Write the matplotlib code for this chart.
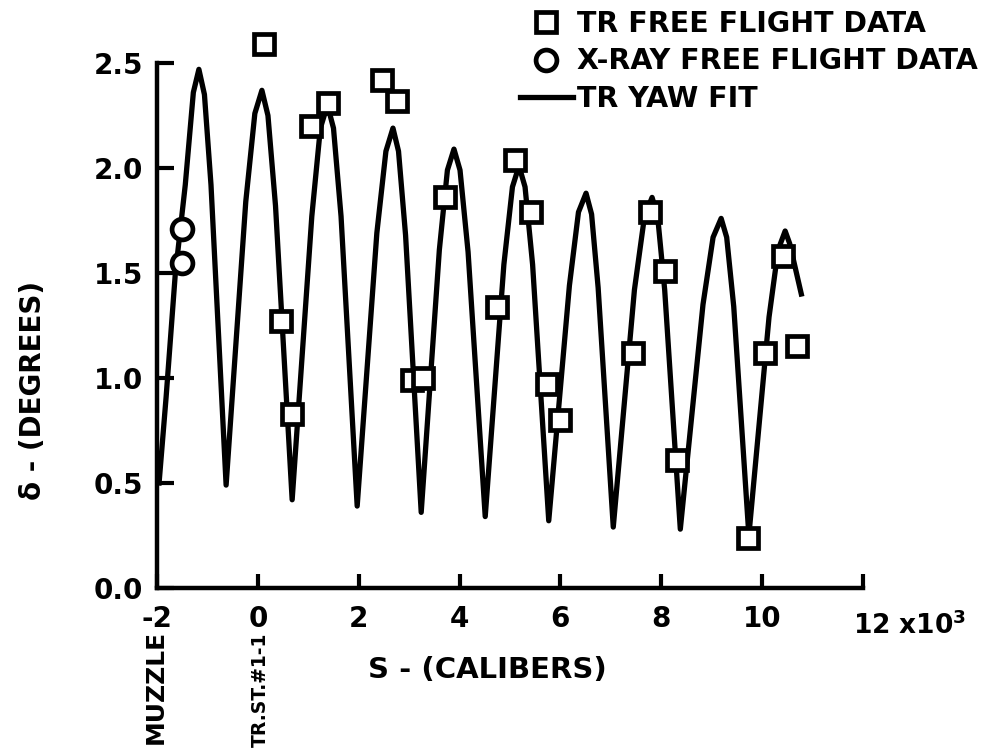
import matplotlib.pyplot as plt
from matplotlib.lines import Line2D

# TR yaw fit curve (s in 10^3 calibers, delta in degrees)
fit_s = [-1.96, -1.82, -1.64, -1.44, -1.28, -1.17, -1.06, -0.93,
         -0.63, -0.24, -0.06, 0.08, 0.20, 0.35,
         0.68, 1.07, 1.24, 1.38, 1.50, 1.65,
         1.97, 2.36, 2.54, 2.68, 2.79, 2.93,
         3.24, 3.60, 3.76, 3.89, 4.01, 4.17,
         4.51, 4.88, 5.05, 5.18, 5.30, 5.45,
         5.77, 6.18, 6.36, 6.51, 6.62, 6.75,
         7.05, 7.47, 7.67, 7.82, 7.93, 8.07,
         8.38, 8.83, 9.03, 9.19, 9.30, 9.44,
         9.74, 10.14, 10.32, 10.46, 10.55, 10.78]
fit_delta = [0.50, 0.91, 1.49, 1.92, 2.36, 2.47, 2.35, 1.92,
             0.49, 1.84, 2.26, 2.37, 2.25, 1.82,
             0.42, 1.77, 2.19, 2.30, 2.19, 1.77,
             0.39, 1.69, 2.08, 2.19, 2.08, 1.68,
             0.36, 1.61, 1.99, 2.09, 1.99, 1.60,
             0.34, 1.54, 1.91, 2.01, 1.91, 1.54,
             0.32, 1.44, 1.79, 1.88, 1.78, 1.43,
             0.29, 1.42, 1.77, 1.86, 1.77, 1.42,
             0.28, 1.35, 1.67, 1.76, 1.67, 1.34,
             0.25, 1.29, 1.61, 1.70, 1.64, 1.40]

# TR free flight data (squares)
tr_s = [0.12, 0.46, 0.68, 1.06, 1.39, 2.46, 2.76, 3.06, 3.28, 3.71, 4.75,
        5.10, 5.42, 5.74, 6.00, 7.44, 7.78, 8.08, 8.32, 9.73, 10.06, 10.42, 10.70]
tr_delta = [2.59, 1.27, 0.83, 2.20, 2.31, 2.42, 2.32, 0.99, 1.00, 1.86, 1.34,
            2.04, 1.79, 0.97, 0.80, 1.12, 1.79, 1.51, 0.61, 0.24, 1.12, 1.58, 1.15]

# X-ray free flight data (circles)
xray_s = [-1.50, -1.50]
xray_delta = [1.71, 1.55]

x_ticks = [-2, 0, 2, 4, 6, 8, 10, 12]
x_labels = ["-2", "0", "2", "4", "6", "8", "10", ""]
y_ticks = [0.0, 0.5, 1.0, 1.5, 2.0, 2.5]

plt.rcParams["font.family"] = ["DejaVu Sans"]
plt.rcParams["font.weight"] = "bold"

fig = plt.figure(figsize=(9.94, 7.54), dpi=100)
ax = fig.add_axes([0.158, 0.2202, 0.710, 0.6962])

ax.plot(fit_s, fit_delta, color="black", lw=3.8, solid_joinstyle="round",
        clip_on=False, zorder=2)
ax.plot(tr_s, tr_delta, ls="none", marker="s", ms=15, mfc="white", mec="black",
        mew=3.4, clip_on=False, zorder=3)
ax.plot(xray_s, xray_delta, ls="none", marker="o", ms=15, mfc="white", mec="black",
        mew=3.4, clip_on=False, zorder=3)

ax.set_xlim(-2, 12)
ax.set_ylim(0, 2.5)
for side in ["top", "right"]:
    ax.spines[side].set_visible(False)
for side in ["left", "bottom"]:
    ax.spines[side].set_linewidth(3.2)

ax.set_xticks(x_ticks)
ax.set_xticklabels(x_labels)
ax.set_yticks(y_ticks)
ax.set_yticklabels([f"{v:.1f}" for v in y_ticks])
ax.tick_params(axis="x", direction="in", length=10, width=3, labelsize=20, pad=12)
ax.tick_params(axis="y", direction="in", length=12, width=3, labelsize=20, pad=10)

ax.text(11.8, -0.11, "12 x10$^{\\mathbf{3}}$", fontsize=19, fontweight="bold",
        ha="left", va="top")

fig.text(487 / 994, 1 - 670 / 754, "S - (CALIBERS)", fontsize=21,
         fontweight="bold", ha="center", va="center")
fig.text(33 / 994, 1 - 390 / 754, "δ - (DEGREES)", rotation=90, fontsize=20,
         fontweight="bold", ha="center", va="center")

ax.text(-2.02, -0.2, "MUZZLE", rotation=90, fontsize=18, fontweight="bold",
        ha="center", va="top")
ax.text(0.05, -0.215, "TR.ST.#1-1", rotation=90, fontsize=13.5, fontweight="bold",
        ha="center", va="top")

handles = [
    Line2D([], [], ls="none", marker="s", ms=15, mfc="white", mec="black", mew=3.4),
    Line2D([], [], ls="none", marker="o", ms=15, mfc="white", mec="black", mew=3.4),
    Line2D([], [], color="black", lw=3.8),
]
labels = ["TR FREE FLIGHT DATA", "X-RAY FREE FLIGHT DATA", "TR YAW FIT"]
fig.legend(handles, labels, loc="upper left", bbox_to_anchor=(0.523, 0.987),
           frameon=False, handlelength=1.86, handletextpad=0.14,
           labelspacing=0.34, borderpad=0, borderaxespad=0,
           prop={"weight": "bold", "size": 20.5})

fig.savefig("out.png", dpi=100)
